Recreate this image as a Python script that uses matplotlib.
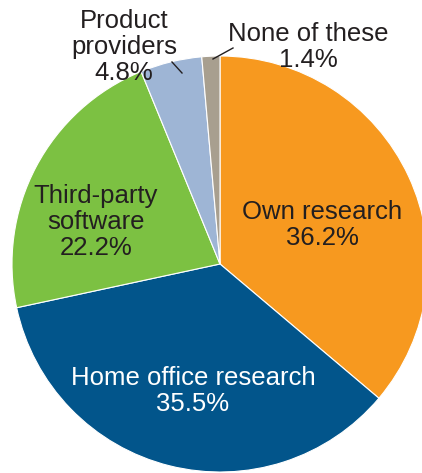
import matplotlib.pyplot as plt

labels = ['Own research', 'Home office research', 'Third-party\nsoftware',
          'Product\nproviders', 'None of these']
shares = [36.2, 35.5, 22.2, 4.8, 1.4]
colors = ['#F7991F', '#02558B', '#7CC142', '#9EB5D5', '#A89F8F']

plt.rcParams['font.family'] = ['Liberation Sans', 'DejaVu Sans']

W, H = 422, 473
fig = plt.figure(figsize=(W / 100, H / 100), dpi=100)
ax = fig.add_axes([0, 0, 1, 1])

cx, cy, r = 220, H - 264, 208
ax.pie(shares, colors=colors, startangle=90, counterclock=False,
       center=(cx, cy), radius=r, frame=True,
       wedgeprops=dict(edgecolor='white', linewidth=0.8))
ax.set_xlim(0, W)
ax.set_ylim(0, H)
ax.set_aspect('equal')
ax.axis('off')

fs = 18.5
txt = '#231F20'
kw = dict(ha='center', va='center', fontsize=fs, linespacing=1.12)
# labels inside the large slices
ax.text(322, H - 225, f'{labels[0]}\n{shares[0]}%', color=txt, **kw)
ax.text(193, H - 391, f'{labels[1]}\n{shares[1]}%', color='white', **kw)
ax.text(96, H - 222, f'{labels[2]}\n{shares[2]}%', color=txt, **kw)
# labels outside the small slices, with leader lines
ax.text(124, H - 47, f'{labels[3]}\n{shares[3]}%', color=txt, **kw)
ax.plot([172, 182], [H - 62, H - 73], color=txt, lw=1)
ax.text(308, H - 47, f'{labels[4]}\n{shares[4]}%', color=txt, **kw)
ax.plot([233, 213], [H - 48, H - 59], color=txt, lw=1)

fig.savefig('out.png', dpi=100)
